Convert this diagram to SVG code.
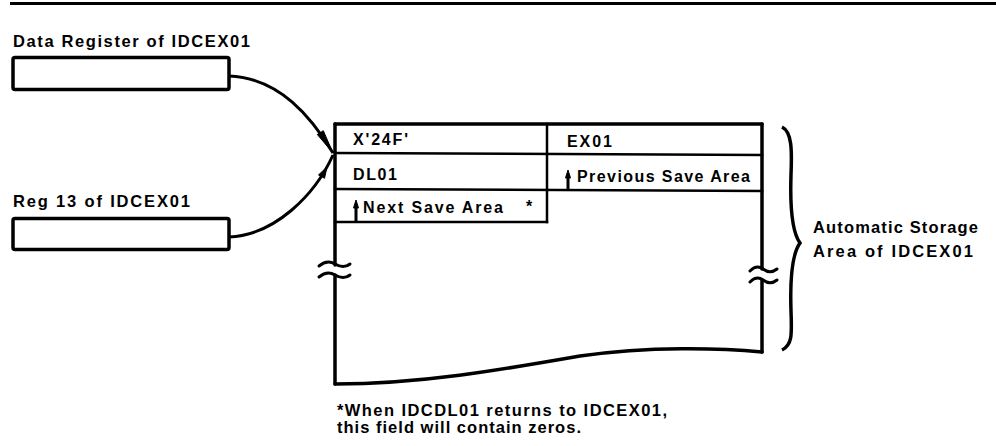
<svg xmlns="http://www.w3.org/2000/svg" width="996" height="446" viewBox="0 0 996 446">
<style>
text{font-family:"Liberation Sans",Arial,sans-serif;font-weight:bold;fill:#000;font-size:16.5px}
.cell{font-size:16px}
.thick{fill:none;stroke:#000;stroke-width:3.5;stroke-linecap:round;stroke-linejoin:round}
.thin{fill:none;stroke:#000;stroke-width:2.5;stroke-linecap:square}
.ln{fill:none;stroke:#000;stroke-width:3}
.head{fill:#000;stroke:#000;stroke-width:1}
.brk{fill:none;stroke:#000;stroke-width:3;stroke-linecap:round}
</style>
<rect x="0" y="0" width="996" height="446" fill="#fff"/>
<line x1="10" y1="3.5" x2="996" y2="3.5" stroke="#000" stroke-width="3"/>

<g id="data-register">
<text x="13" y="47" textLength="237" lengthAdjust="spacing">Data Register of IDCEX01</text>
<rect x="13" y="57.5" width="216" height="32" rx="2" class="thick"/>
</g>

<g id="reg13">
<text x="13" y="207" textLength="177" lengthAdjust="spacing">Reg 13 of IDCEX01</text>
<rect x="13" y="218.5" width="216" height="31" rx="2" class="thick"/>
</g>

<g id="storage-area">
<path class="thick" d="M335,124 L762,124"/>
<path class="thick" d="M335,124 L335,265"/>
<path class="thick" d="M335,275 L335,384"/>
<path class="thick" d="M762,124 L762,269"/>
<path class="thick" d="M762,280 L762,352"/>
<path class="thick" d="M335,384 C420,384 500,370 580,356 C650,346 720,348 762,352"/>
<path class="brk" d="M319,266 C325,261 330,261 335,264 C340,267 345,268 350,264"/>
<path class="brk" d="M319,277 C325,272 330,272 335,275 C340,278 345,279 350,275"/>
<path class="brk" d="M750,271 C755,266 759,266 763,269 C767,272 772,273 777,269"/>
<path class="brk" d="M750,282 C755,277 759,277 763,280 C767,283 772,284 777,280"/>
</g>

<g id="cell-x24f">
<path class="thin" d="M335,153 L762,155"/>
<text class="cell" x="353" y="145" textLength="55" lengthAdjust="spacing">X'24F'</text>
</g>
<g id="cell-ex01">
<path class="thin" d="M547,124 L547,222"/>
<text class="cell" x="567" y="147" textLength="45" lengthAdjust="spacing">EX01</text>
</g>
<g id="cell-dl01">
<path class="thin" d="M335,189 L762,191"/>
<text class="cell" x="353" y="180" textLength="44" lengthAdjust="spacing">DL01</text>
</g>
<g id="cell-prev">
<line x1="568" y1="176" x2="568" y2="191" class="ln" stroke-width="2"/>
<polygon class="head" points="568,170 565.5,178 570.5,178"/>
<text class="cell" x="577" y="182" textLength="173" lengthAdjust="spacing">Previous Save Area</text>
</g>
<g id="cell-next">
<path class="thin" d="M335,222 L547,222"/>
<line x1="356" y1="206" x2="356" y2="221" class="ln" stroke-width="2"/>
<polygon class="head" points="356,200 353.5,208 358.5,208"/>
<text class="cell" x="363" y="213" textLength="140" lengthAdjust="spacing">Next Save Area</text>
<text class="cell" x="526" y="212">*</text>
</g>

<g id="brace-label">
<path d="M782,127 C792,132 792,150 791,175 C790,205 792,232 800,243 C792,254 790,281 791,311 C792,336 792,345 782,350" fill="none" stroke="#000" stroke-width="3.5"/>
<text x="813" y="233" textLength="165" lengthAdjust="spacing">Automatic Storage</text>
<text x="813" y="257" textLength="160" lengthAdjust="spacing">Area of IDCEX01</text>
</g>

<g id="footnote">
<text x="337" y="416" textLength="330" lengthAdjust="spacing">*When IDCDL01 returns to IDCEX01,</text>
<text x="337" y="433" textLength="244" lengthAdjust="spacing">this field will contain zeros.</text>
</g>

<g id="connectors">
<path class="ln" d="M229,76 C280,78 312,118 333,153"/>
<polygon class="head" points="333,153 323.3,130.7 317.3,134.5"/>
<path class="ln" d="M229,237 C275,235 315,195 333,155"/>
<polygon class="head" points="327,167 324.5,178.3 318.5,174.9"/>
</g>
</svg>
